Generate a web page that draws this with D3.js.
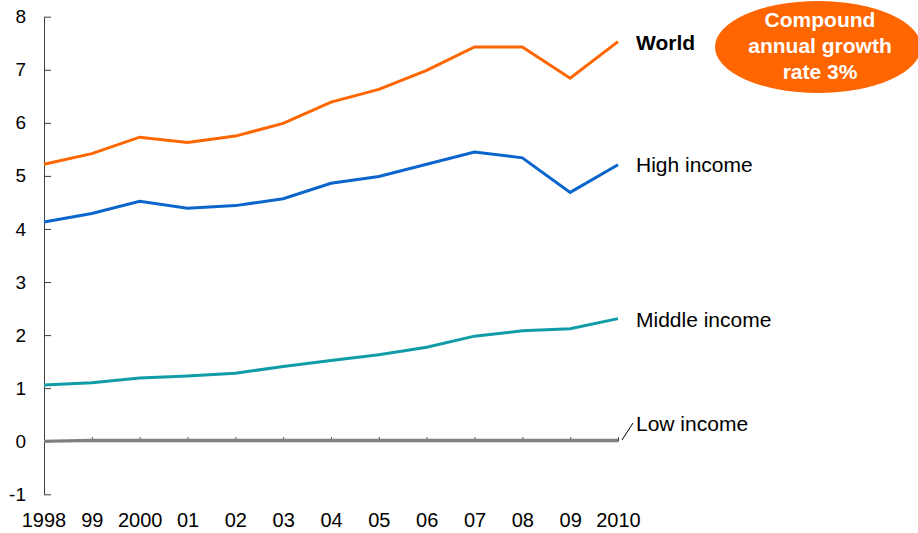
<!DOCTYPE html>
<html>
<head>
<meta charset="utf-8">
<script src="https://cdn.jsdelivr.net/npm/d3@7"></script>
<style>
  body { margin: 0; background: #fff; }
  svg { display: block; font-family: "Liberation Sans", Arial, sans-serif; }
</style>
</head>
<body>
<svg id="chart" width="918" height="533"></svg>
<script>
// Data
var years = [1998, 1999, 2000, 2001, 2002, 2003, 2004, 2005, 2006, 2007, 2008, 2009, 2010];
var yearLabels = ["1998", "99", "2000", "01", "02", "03", "04", "05", "06", "07", "08", "09", "2010"];
var world = [5.22, 5.42, 5.73, 5.63, 5.75, 5.99, 6.39, 6.63, 6.99, 7.43, 7.43, 6.84, 7.53];
var highIncome = [4.13, 4.29, 4.52, 4.39, 4.44, 4.57, 4.86, 4.99, 5.22, 5.45, 5.34, 4.69, 5.21];
var middleIncome = [1.06, 1.10, 1.19, 1.23, 1.28, 1.41, 1.52, 1.63, 1.77, 1.98, 2.08, 2.12, 2.31];
var lowIncome = [0.00, 0.02, 0.02, 0.02, 0.02, 0.02, 0.02, 0.02, 0.02, 0.02, 0.02, 0.02, 0.02];
var yTicks = [-1, 0, 1, 2, 3, 4, 5, 6, 7, 8];

var series = [
    {name: "Low income", values: lowIncome, color: "#808080", labelY: 431, bold: false},
    {name: "Middle income", values: middleIncome, color: "#109ca6", labelY: 327, bold: false},
    {name: "High income", values: highIncome, color: "#0a66cc", labelY: 172, bold: false},
    {name: "World", values: world, color: "#ff6600", labelY: 50, bold: true}
];

var svg = d3.select("#chart");

// Scales
var x = d3.scaleLinear().domain([1998, 2010]).range([44, 618]);
var y = d3.scaleLinear().domain([-1, 8]).range([494.3, 16.7]);

// Y axis (ticks point inward), plain hyphen for negatives
var yAxis = svg.append("g")
    .attr("transform", "translate(44,0)")
    .call(d3.axisLeft(y).tickValues(yTicks).tickSize(-7).tickPadding(18).tickSizeOuter(0)
        .tickFormat(function(d) { return String(d); }));
yAxis.select(".domain").attr("stroke", "#404040");
yAxis.selectAll(".tick line").attr("stroke", "#404040");
yAxis.selectAll("text")
    .attr("fill", "#000")
    .style("font-size", "19px");

// X axis along zero
var xAxis = svg.append("g")
    .attr("transform", "translate(0," + y(0) + ")")
    .call(d3.axisBottom(x).tickValues(years.slice(1))
        .tickFormat(function(d) { return yearLabels[years.indexOf(d)]; })
        .tickSize(-4).tickPadding(72).tickSizeOuter(0));
xAxis.select(".domain").attr("stroke", "#606060");
xAxis.selectAll(".tick line").attr("stroke", "#404040");
xAxis.selectAll("text")
    .attr("fill", "#000")
    .style("font-size", "20px");

// the 1998 label sits under the y axis
svg.append("text")
    .attr("x", x(1998))
    .attr("y", y(0) + 72)
    .attr("dy", "0.71em")
    .attr("text-anchor", "middle")
    .style("font-size", "20px")
    .text(yearLabels[0]);

// Lines
var line = d3.line()
    .x(function(d, i) { return x(years[i]); })
    .y(function(d) { return y(d); });

svg.selectAll(".series")
    .data(series)
    .enter().append("path")
    .attr("class", "series")
    .attr("fill", "none")
    .attr("stroke", function(d) { return d.color; })
    .attr("stroke-width", 3)
    .attr("d", function(d) { return line(d.values); });

// Series labels
svg.selectAll(".label")
    .data(series)
    .enter().append("text")
    .attr("class", "label")
    .attr("x", 636)
    .attr("y", function(d) { return d.labelY; })
    .style("font-size", "21px")
    .style("font-weight", function(d) { return d.bold ? "bold" : "normal"; })
    .attr("fill", "#000")
    .text(function(d) { return d.name; });

// Leader for low income
svg.append("line")
    .attr("x1", 622).attr("y1", 440)
    .attr("x2", 633).attr("y2", 423)
    .attr("stroke", "#000")
    .attr("stroke-width", 1);

// Growth rate bubble
svg.append("ellipse")
    .attr("cx", 818).attr("cy", 47)
    .attr("rx", 103).attr("ry", 46)
    .attr("fill", "#ff6600");

var bubble = ["Compound", "annual growth", "rate 3%"];
svg.selectAll(".bubble")
    .data(bubble)
    .enter().append("text")
    .attr("class", "bubble")
    .attr("x", 820)
    .attr("y", function(d, i) { return 27 + i * 26; })
    .attr("text-anchor", "middle")
    .attr("fill", "#fff")
    .style("font-size", "21px")
    .style("font-weight", "bold")
    .text(function(d) { return d; });
</script>
</body>
</html>
